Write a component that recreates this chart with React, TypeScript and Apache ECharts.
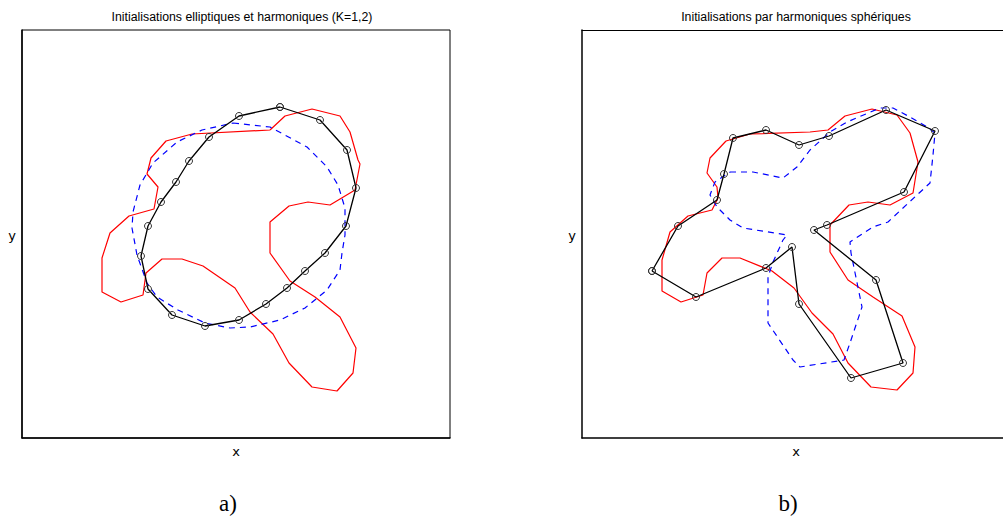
import React, { useEffect, useRef } from "react";
import * as echarts from "echarts";

// Values (arbitrary units, box = 428 x 408)
const ellipticPoints: number[][] = [
  [258, 331], [298, 318], [325, 288], [334, 250], [324, 212], [303, 185], [283, 167], [265, 150],
  [244, 134], [217, 118], [183, 112], [150, 123], [126, 149], [119, 182], [126, 212], [139, 236],
  [154, 256], [167, 277], [187, 301], [217, 322],
];
const contourA: number[][] = [
  [248, 308], [263, 322], [290, 329], [318, 322], [328, 306], [336, 278], [338, 274], [333, 248],
  [308, 233], [286, 236], [267, 232], [248, 216], [248, 185], [268, 157], [293, 141], [318, 121],
  [334, 90], [331, 65], [315, 47], [290, 51], [267, 75], [251, 104], [228, 126], [213, 150],
  [181, 172], [160, 179], [140, 179], [124, 165], [121, 143], [99, 136], [80, 146], [80, 180],
  [88, 205], [107, 222], [132, 229], [136, 251], [125, 264], [129, 280], [144, 297], [170, 304],
];
const harmonicA: number[][] = [
  [211, 315], [248, 311], [285, 291], [305, 271], [316, 253], [323, 230], [323, 203], [320, 185],
  [318, 168], [305, 148], [283, 130], [258, 118], [228, 111], [208, 110], [183, 115], [156, 128],
  [135, 141], [125, 155], [115, 183], [110, 210], [111, 226], [118, 253], [131, 275], [155, 296],
  [180, 308],
];
const sphericalPoints: number[][] = [
  [70, 167], [96, 212], [135, 238], [142, 264], [151, 300], [184, 308], [217, 293], [247, 302],
  [304, 328], [353, 307], [322, 246], [245, 213], [232, 208], [294, 158], [321, 75], [269, 60],
  [217, 134], [210, 191], [184, 170], [114, 141],
];
const contourB: number[][] = [
  [144, 297], [168, 304], [228, 306], [246, 308], [263, 322], [290, 329], [315, 323], [328, 305],
  [336, 276], [331, 245], [308, 233], [286, 236], [267, 233], [248, 213], [248, 186], [266, 158],
  [291, 141], [320, 122], [333, 91], [331, 65], [315, 48], [289, 51], [266, 75], [251, 104],
  [230, 125], [212, 150], [190, 167], [158, 180], [140, 180], [125, 165], [121, 143], [99, 136],
  [80, 147], [80, 178], [88, 206], [106, 222], [130, 228], [136, 240], [135, 251], [125, 265],
  [128, 280],
];
const harmonicB: number[][] = [
  [148, 266], [171, 266], [201, 260], [215, 271], [228, 288], [248, 306], [265, 316], [298, 330],
  [311, 330], [328, 321], [345, 311], [353, 305], [351, 283], [348, 255], [335, 243], [306, 216],
  [291, 211], [268, 196], [269, 185], [280, 131], [268, 95], [262, 78], [218, 71], [211, 78],
  [186, 115], [186, 161], [191, 176], [201, 198], [205, 203], [161, 210], [148, 218], [135, 231],
  [128, 243], [133, 256],
];

const titles = ["Initialisations elliptiques et harmoniques (K=1,2)", "Initialisations par harmoniques sphériques"];
const panelLabels = ["a)", "b)"];

const close = (pts: number[][]) => [...pts, pts[0]];

export default function App() {
  const ref = useRef<HTMLDivElement>(null);
  useEffect(() => {
    if (!ref.current) return;
    const chart = echarts.init(ref.current, null, { renderer: "svg" });
    const line = { show: true, onZero: false, lineStyle: { color: "#000", width: 1.5 } };
    const hidden = { axisTick: { show: false }, axisLabel: { show: false }, splitLine: { show: false } };
    chart.setOption({
      animation: false,
      backgroundColor: "#fff",
      grid: [
        { left: 22, top: 30, width: 428, height: 408, show: true, borderColor: "#000", borderWidth: 1 },
        // right part of panel b lies beyond the picture's edge
        { left: 582, top: 30, width: 421, height: 408, show: false },
      ],
      xAxis: [
        { type: "value", gridIndex: 0, min: 0, max: 428, axisLine: line, ...hidden },
        { type: "value", gridIndex: 1, min: 0, max: 421, axisLine: line, ...hidden },
        { type: "value", gridIndex: 1, min: 0, max: 421, position: "top", axisLine: { ...line, lineStyle: { color: "#000", width: 1 } }, ...hidden },
      ],
      yAxis: [
        { type: "value", gridIndex: 0, min: 0, max: 408, axisLine: line, ...hidden },
        { type: "value", gridIndex: 1, min: 0, max: 408, axisLine: line, ...hidden },
      ],
      series: [
        { type: "line", xAxisIndex: 0, yAxisIndex: 0, data: close(contourA), symbol: "none", lineStyle: { color: "#ff0000", width: 1.2 }, z: 2, silent: true },
        { type: "line", xAxisIndex: 0, yAxisIndex: 0, data: close(harmonicA), symbol: "none", lineStyle: { color: "#0000ff", width: 1.2, type: [6, 5] }, z: 3, silent: true },
        { type: "line", xAxisIndex: 0, yAxisIndex: 0, data: close(ellipticPoints), symbol: "circle", symbolSize: 7, showAllSymbol: true,
          itemStyle: { color: "rgba(0,0,0,0)", borderColor: "#333", borderWidth: 1 }, lineStyle: { color: "#000", width: 1.3 }, z: 4, silent: true },
        { type: "line", xAxisIndex: 1, yAxisIndex: 1, data: close(contourB), symbol: "none", lineStyle: { color: "#ff0000", width: 1.2 }, z: 2, silent: true },
        { type: "line", xAxisIndex: 1, yAxisIndex: 1, data: close(harmonicB), symbol: "none", lineStyle: { color: "#0000ff", width: 1.2, type: [6, 5] }, z: 3, silent: true },
        { type: "line", xAxisIndex: 1, yAxisIndex: 1, data: close(sphericalPoints), symbol: "circle", symbolSize: 7, showAllSymbol: true,
          itemStyle: { color: "rgba(0,0,0,0)", borderColor: "#333", borderWidth: 1 }, lineStyle: { color: "#000", width: 1.3 }, z: 4, silent: true },
      ],
      graphic: [
        { type: "text", x: 242, y: 17, style: { text: titles[0], fontFamily: "Liberation Sans", fontSize: 12.3, fill: "#000", textAlign: "center", textVerticalAlign: "middle" } },
        { type: "text", x: 796, y: 17, style: { text: titles[1], fontFamily: "Liberation Sans", fontSize: 12.3, fill: "#000", textAlign: "center", textVerticalAlign: "middle" } },
        { type: "text", x: 236, y: 451, style: { text: "x", fontFamily: "DejaVu Sans", fontSize: 13, fill: "#000", textAlign: "center", textVerticalAlign: "middle" } },
        { type: "text", x: 796, y: 451, style: { text: "x", fontFamily: "DejaVu Sans", fontSize: 13, fill: "#000", textAlign: "center", textVerticalAlign: "middle" } },
        { type: "text", x: 12, y: 235, style: { text: "y", fontFamily: "DejaVu Sans", fontSize: 13, fill: "#000", textAlign: "center", textVerticalAlign: "middle" } },
        { type: "text", x: 572, y: 235, style: { text: "y", fontFamily: "DejaVu Sans", fontSize: 13, fill: "#000", textAlign: "center", textVerticalAlign: "middle" } },
        { type: "text", x: 228, y: 503, style: { text: panelLabels[0], fontFamily: "Liberation Serif", fontSize: 23, fill: "#000", textAlign: "center", textVerticalAlign: "middle" } },
        { type: "text", x: 788, y: 503, style: { text: panelLabels[1], fontFamily: "Liberation Serif", fontSize: 23, fill: "#000", textAlign: "center", textVerticalAlign: "middle" } },
      ],
    });
    return () => chart.dispose();
  }, []);
  return <div ref={ref} style={{ position: "absolute", left: 0, top: 0, width: 1003, height: 517 }} />;
}
